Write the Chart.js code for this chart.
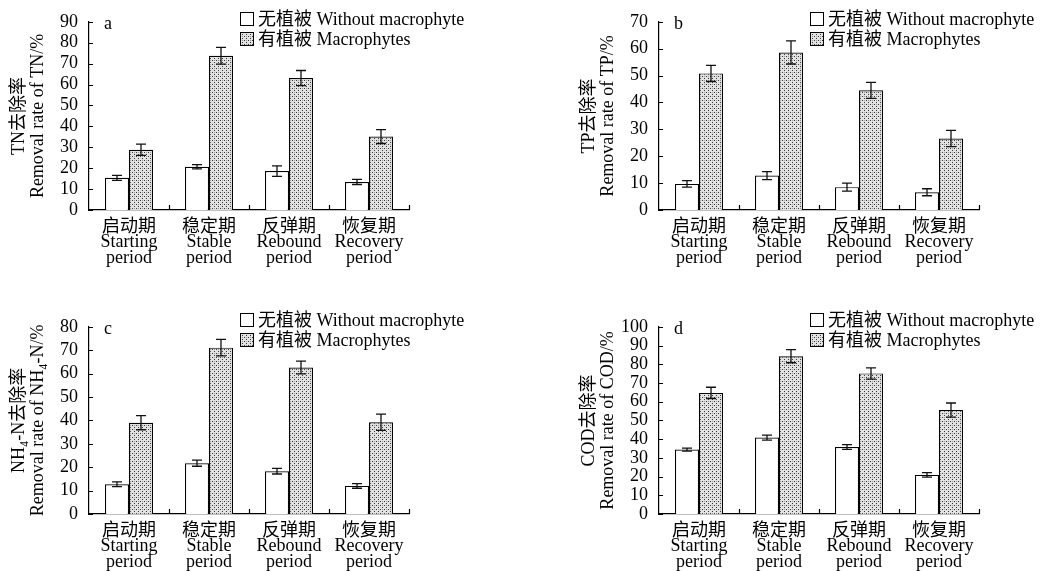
<!DOCTYPE html>
<html>
<head>
<meta charset="utf-8">
<script src="https://cdn.jsdelivr.net/npm/chart.js"></script>
<style>
  body { margin: 0; background: #fff; width: 1047px; height: 571px; overflow: hidden; position: relative; }
  canvas { position: absolute; }
</style>
</head>
<body>
<canvas id="chartA" width="477" height="290" style="left:0px;top:0px"></canvas>
<canvas id="chartB" width="477" height="290" style="left:570px;top:0px"></canvas>
<canvas id="chartC" width="477" height="266" style="left:0px;top:305px"></canvas>
<canvas id="chartD" width="477" height="266" style="left:570px;top:305px"></canvas>

<script>
// -- Categories (x axis), three lines each.
const periods = [
  ['启动期', 'Starting', 'period'],
  ['稳定期', 'Stable', 'period'],
  ['反弹期', 'Rebound', 'period'],
  ['恢复期', 'Recovery', 'period'],
];
const seriesNames = ['无植被 Without macrophyte', '有植被 Macrophytes'];

// -- a: TN
const tnWithout    = [15.4, 20.7, 18.6, 13.4];
const tnWithoutErr = [1.2, 1.0, 2.5, 1.2];
const tnWith       = [28.8, 73.8, 63.1, 35.1];
const tnWithErr    = [2.7, 4.0, 3.6, 3.3];

// -- b: TP
const tpWithout    = [9.7, 12.8, 8.5, 6.6];
const tpWithoutErr = [1.2, 1.5, 1.5, 1.3];
const tpWith       = [50.8, 58.6, 44.5, 26.6];
const tpWithErr    = [3.0, 4.3, 3.0, 3.0];

// -- c: NH4-N
const nhWithout    = [12.7, 21.7, 18.3, 12.0];
const nhWithoutErr = [1.0, 1.3, 1.2, 1.0];
const nhWith       = [39.0, 71.1, 62.6, 39.2];
const nhWithErr    = [3.0, 3.5, 2.7, 3.5];

// -- d: COD
const codWithout    = [34.4, 40.8, 35.8, 20.9];
const codWithoutErr = [0.8, 1.3, 1.3, 1.2];
const codWith       = [64.7, 84.3, 75.1, 55.5];
const codWithErr    = [3.0, 3.5, 3.0, 3.8];

const FONT = '"Liberation Serif", "Noto Sans CJK SC", serif';

// -- Stipple pattern for the "with macrophytes" bars.
const make_pattern = () => {
  const c = document.createElement('canvas');
  c.width = 4; c.height = 4;
  const g = c.getContext('2d');
  g.fillStyle = '#e2e2e2';
  g.fillRect(0, 0, 4, 4);
  g.fillStyle = '#3a3a3a';
  g.fillRect(0, 0, 1, 1);
  g.fillRect(2, 2, 1, 1);
  g.fillStyle = '#9a9a9a';
  g.fillRect(2, 0, 1, 1);
  return g.createPattern(c, 'repeat');
};
const stipple = make_pattern();

// -- Error bars, inward axis ticks, legend and panel letter.
const decoPlugin = {
  id: 'deco',
  afterDatasetsDraw(chart) {
    const {ctx, scales: {y}} = chart;
    ctx.save();
    ctx.strokeStyle = '#111';
    ctx.lineWidth = 1.3;
    chart.data.datasets.forEach((ds, i) => {
      chart.getDatasetMeta(i).data.forEach((bar, j) => {
        const v = ds.data[j], e = ds.errors[j];
        const yt = y.getPixelForValue(v + e), yb = y.getPixelForValue(v - e);
        ctx.beginPath();
        ctx.moveTo(bar.x, yt); ctx.lineTo(bar.x, yb);
        ctx.moveTo(bar.x - 5, yt); ctx.lineTo(bar.x + 5, yt);
        ctx.moveTo(bar.x - 5, yb); ctx.lineTo(bar.x + 5, yb);
        ctx.stroke();
      });
    });
    ctx.restore();
  },
  afterDraw(chart, args, opts) {
    const {ctx, chartArea: area, scales: {x, y}} = chart;
    ctx.save();
    ctx.strokeStyle = '#000';
    ctx.lineWidth = 1.2;
    // -- y ticks pointing into the plot
    ctx.beginPath();
    y.ticks.forEach(t => {
      const py = Math.round(y.getPixelForValue(t.value)) + 0.5;
      ctx.moveTo(area.left, py); ctx.lineTo(area.left + 4, py);
    });
    // -- x ticks on category boundaries, pointing up
    for (let i = 1; i <= periods.length; i++) {
      const px = Math.round(x.getPixelForValue(i - 0.5)) + 0.5;
      ctx.moveTo(px, area.bottom); ctx.lineTo(px, area.bottom - 5);
    }
    ctx.stroke();

    // -- panel letter
    ctx.fillStyle = '#000';
    ctx.font = '18px ' + FONT;
    ctx.textAlign = 'left';
    ctx.textBaseline = 'alphabetic';
    ctx.fillText(opts.letter, area.left + 15, area.top + 7);

    // -- legend
    ctx.textBaseline = 'middle';
    chart.data.datasets.forEach((ds, i) => {
      const lx = opts.legendX, ly = opts.legendY + i * 20;
      ctx.fillStyle = ds.backgroundColor;
      ctx.fillRect(lx, ly, 14, 14);
      ctx.lineWidth = 1;
      ctx.strokeRect(lx + 0.5, ly + 0.5, 13, 13);
      ctx.fillStyle = '#000';
      ctx.fillText(ds.label, lx + 18, ly + 8);
    });
    ctx.restore();
  }
};

const make_panel = (id, p) => {
  const canvas = document.getElementById(id);
  const H = canvas.height, W = canvas.width;
  return new Chart(canvas, {
    type: 'bar',
    data: {
      labels: periods,
      datasets: [
        { label: seriesNames[0], data: p.without, errors: p.withoutErr,
          backgroundColor: '#ffffff', borderColor: '#000', borderWidth: 1.2, borderSkipped: 'bottom' },
        { label: seriesNames[1], data: p.with, errors: p.withErr,
          backgroundColor: stipple, borderColor: '#000', borderWidth: 1.2, borderSkipped: 'bottom' },
      ],
    },
    options: {
      responsive: false,
      animation: false,
      events: [],
      categoryPercentage: 0.6,
      barPercentage: 1.0,
      layout: { padding: { left: 0, right: W - 409, top: p.top, bottom: 0 } },
      plugins: {
        legend: { display: false },
        tooltip: { enabled: false },
        deco: { letter: p.letter, legendX: 240, legendY: p.legendY },
      },
      scales: {
        x: {
          ticks: { color: '#000', font: { family: FONT, size: 18, lineHeight: 0.88 }, padding: 9,
                   maxRotation: 0, autoSkip: false },
          grid: { display: false, drawTicks: false },
          border: { display: true, color: '#000', width: 1.2 },
          afterFit: (s) => { s.height = H - p.bottom; },
        },
        y: {
          min: 0, max: p.max,
          ticks: { stepSize: 10, autoSkip: false, color: '#000', font: { family: FONT, size: 18 }, padding: 11 },
          grid: { display: false, drawTicks: false },
          border: { display: true, color: '#000', width: 1.2 },
          title: { display: true, text: p.title, color: '#000',
                   font: { family: FONT, size: 18, lineHeight: 1.05 }, padding: { top: 10, bottom: 0 } },
          afterFit: (s) => { s.width = 89; },
        },
      },
    },
    plugins: [decoPlugin],
  });
};

make_panel('chartA', { without: tnWithout, withoutErr: tnWithoutErr, with: tnWith, withErr: tnWithErr,
  max: 90, letter: 'a', top: 17, bottom: 210, legendY: 12,
  title: ['TN去除率', 'Removal rate of TN/%'] });
make_panel('chartB', { without: tpWithout, withoutErr: tpWithoutErr, with: tpWith, withErr: tpWithErr,
  max: 70, letter: 'b', top: 17, bottom: 210, legendY: 12,
  title: ['TP去除率', 'Removal rate of TP/%'] });
make_panel('chartC', { without: nhWithout, withoutErr: nhWithoutErr, with: nhWith, withErr: nhWithErr,
  max: 80, letter: 'c', top: 18, bottom: 209, legendY: 8,
  title: ['NH₄-N去除率', 'Removal rate of NH₄-N/%'] });
make_panel('chartD', { without: codWithout, withoutErr: codWithoutErr, with: codWith, withErr: codWithErr,
  max: 100, letter: 'd', top: 18, bottom: 209, legendY: 8,
  title: ['COD去除率', 'Removal rate of COD/%'] });
</script>
</body>
</html>
